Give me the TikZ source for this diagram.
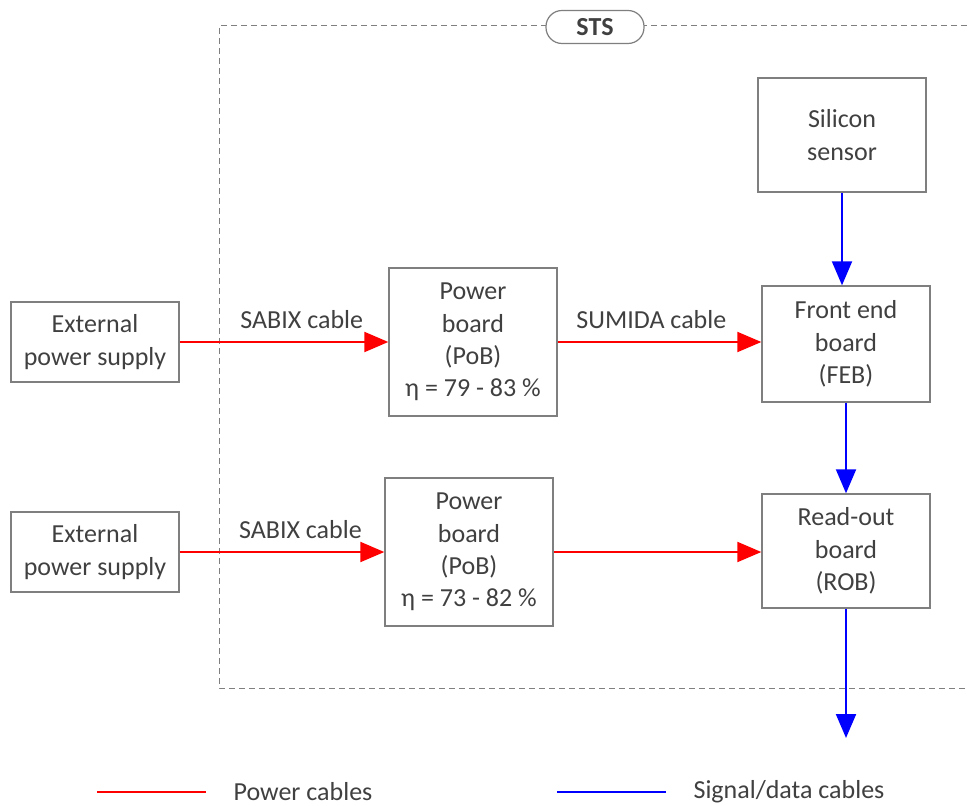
\documentclass[tikz,border=0pt]{standalone}
\usepackage{fontspec}
\setmainfont{Carlito}
\usetikzlibrary{arrows.meta,positioning}
\definecolor{txtgray}{HTML}{404040}
\definecolor{boxgray}{HTML}{7F7F7F}

\begin{document}
\begin{tikzpicture}[x=0.5pt,y=-0.5pt,
    font=\fontsize{13}{16.2}\selectfont, text=txtgray,
    block/.style={draw=boxgray, line width=0.7pt, align=center, minimum width=84pt, inner sep=0pt},
    cable/.style={text=txtgray, above=3pt},
    power/.style={red, line width=1pt, -{Triangle[length=12pt,width=10pt]}},
    signal/.style={blue, line width=1pt, -{Triangle[length=12pt,width=10pt]}}]
                \useasboundingbox (0,0) rectangle (967,806);

                % STS frame
                \draw [boxgray, line width=0.5pt, dash pattern=on 3pt off 2pt]
                    (967,26) -- (219,26) -- (219,688) -- (967,688);
                \node (sts) [draw=boxgray, line width=0.6pt, fill=white, rounded corners=8pt,
                    minimum width=49pt, minimum height=16.5pt, font=\fontsize{13}{16}\selectfont\bfseries] at (595,27) {STS};

                % boxes
                \node (ext1) [block, minimum height=40pt] at (95,342) {External\\power supply};
                \node (ext2) [block, minimum height=40pt] at (95,552) {External\\power supply};
                \node (pob1) [block, minimum height=74pt] at (473,342) {Power\\board\\(PoB)\\η = 79 - 83 \%};
                \node (pob2) [block, minimum height=74pt] at (469,552) {Power\\board\\(PoB)\\η = 73 - 82 \%};
                \node (sensor) [block, minimum height=57pt] at (842,135) {Silicon\\sensor};
                \node (feb) [block, minimum height=58pt] at (846,344) {Front end\\board\\(FEB)};
                \node (rob) [block, minimum height=57pt] at (846,551) {Read-out\\board\\(ROB)};
                \coordinate (out) at (846,738);

                \path [power]
                    (ext1.east |- pob1.west) edge node [cable, pos=0.585] {SABIX cable} (pob1.west)
                    (pob1.east) edge node [cable, pos=0.46] {SUMIDA cable} (pob1.east -| feb.west)
                    (ext2.east) edge node [cable, pos=0.59] {SABIX cable} (pob2.west)
                    (pob2.east) edge (pob2.east -| rob.west);

                \path [signal]
                    (sensor.south) edge (sensor.south |- feb.north)
                    (feb.south) edge (rob.north)
                    (rob.south) edge (out);

                % legend
                \coordinate (p0) at (97,792);
                \coordinate (p1) at (206,792);
                \coordinate (s0) at (557,792);
                \coordinate (s1) at (666,792);
                \draw [red, line width=1pt] (p0) -- (p1);
                \draw [blue, line width=1pt] (s0) -- (s1);
                \node (powlbl) at (303,792) {Power cables};
                \node (siglbl) at (789,792) {Signal/data cables};
            \end{tikzpicture}
\end{document}
